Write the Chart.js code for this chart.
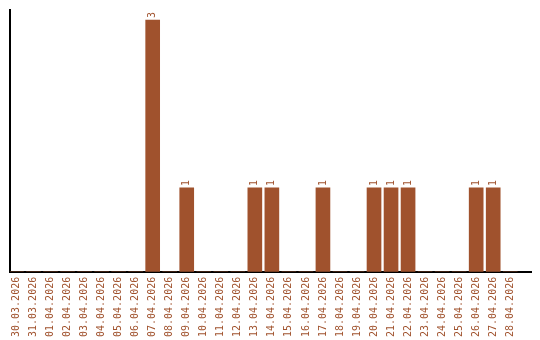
<!DOCTYPE html>
<html>
<head>
<meta charset="utf-8">
<script src="https://cdn.jsdelivr.net/npm/chart.js@4/dist/chart.umd.min.js"></script>
<style>
  html, body { margin: 0; padding: 0; background: #fff; }
</style>
</head>
<body>
<canvas id="ordersChart" width="540" height="340"></canvas>
<script>
// dates shown on the x axis
const days = [
  '30.03.2026', '31.03.2026', '01.04.2026', '02.04.2026', '03.04.2026',
  '04.04.2026', '05.04.2026', '06.04.2026', '07.04.2026', '08.04.2026',
  '09.04.2026', '10.04.2026', '11.04.2026', '12.04.2026', '13.04.2026',
  '14.04.2026', '15.04.2026', '16.04.2026', '17.04.2026', '18.04.2026',
  '19.04.2026', '20.04.2026', '21.04.2026', '22.04.2026', '23.04.2026',
  '24.04.2026', '25.04.2026', '26.04.2026', '27.04.2026', '28.04.2026'
];
// count per day
const counts = [
  0, 0, 0, 0, 0,
  0, 0, 0, 3, 0,
  1, 0, 0, 0, 1,
  1, 0, 0, 1, 0,
  0, 1, 1, 1, 0,
  0, 0, 1, 1, 0
];

const brown = '#a0522d';
const font = { family: 'DejaVu Sans Mono', size: 10 };

// write the value above each bar, rotated like the axis labels
const barValues = {
  id: 'barValues',
  afterDatasetsDraw(chart) {
    const ctx = chart.ctx;
    const meta = chart.getDatasetMeta(0);
    ctx.save();
    ctx.fillStyle = brown;
    ctx.font = font.size + 'px ' + font.family;
    ctx.textAlign = 'left';
    ctx.textBaseline = 'middle';
    meta.data.forEach((bar, i) => {
      if (!counts[i]) return;
      ctx.save();
      ctx.translate(bar.x, bar.y - 2);
      ctx.rotate(-Math.PI / 2);
      ctx.fillText(String(counts[i]), 0, 0);
      ctx.restore();
    });
    ctx.restore();
  }
};

new Chart(document.getElementById('ordersChart').getContext('2d'), {
  type: 'bar',
  data: {
    labels: days,
    datasets: [{
      data: counts,
      backgroundColor: brown,
      borderWidth: 0,
      barThickness: 14
    }]
  },
  options: {
    responsive: false,
    animation: false,
    events: [],
    layout: { padding: { left: 10, top: 10, right: 9, bottom: -2 } },
    plugins: {
      legend: { display: false },
      tooltip: { enabled: false }
    },
    scales: {
      x: {
        offset: true,
        grid: { display: false, drawTicks: false },
        border: { display: true, color: '#000', width: 2 },
        ticks: {
          color: brown,
          font: font,
          autoSkip: false,
          minRotation: 90,
          maxRotation: 90,
          padding: 5
        },
        // leave some empty room to the right of the last day
        afterBuildTicks(scale) {
          scale._startValue = -0.38;
          scale._valueRange = days.length + 0.6;
        }
      },
      y: {
        min: 0,
        max: 3.12,
        grid: { display: false, drawTicks: false },
        border: { display: true, color: '#000', width: 2 },
        ticks: { display: false }
      }
    }
  },
  plugins: [barValues]
});
</script>
</body>
</html>
